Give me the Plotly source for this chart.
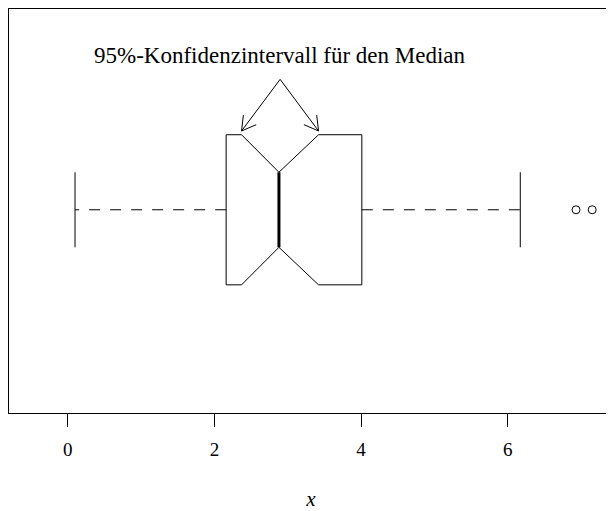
import math
import plotly.graph_objects as go

# box statistics
whisker_lo = 0.1
q1 = 2.16
median = 2.88
q3 = 4.01
whisker_hi = 6.17
notch_lo = 2.37
notch_hi = 3.42
outliers = [6.93, 7.15]

tick_vals = [0, 2, 4, 6]
tick_text = ["0", "2", "4", "6"]
note_text = "95%-Konfidenzintervall für den Median"

# axis ranges and pixel scale of the plot area
x_range = [-0.800, 7.434]
y_range = [-0.083, 2.070]
plot_w, plot_h = 604, 404
sx = plot_w / (x_range[1] - x_range[0])
sy = plot_h / (y_range[1] - y_range[0])

pos = 1.0
half = 0.4
top, bot = pos + half, pos - half
waist = half / 2

fig = go.Figure()

# notched box outline
fig.add_trace(go.Scatter(
    x=[q1, notch_lo, median, notch_hi, q3, q3, notch_hi, median, notch_lo, q1, q1],
    y=[top, top, pos + waist, top, top, bot, bot, pos - waist, bot, bot, top],
    mode="lines", line=dict(color="black", width=1), showlegend=False, hoverinfo="skip"))

# median
fig.add_trace(go.Scatter(x=[median, median], y=[pos - waist, pos + waist], mode="lines",
                         line=dict(color="black", width=3), showlegend=False))

# whiskers (dashed)
for a, b in [(q1, whisker_lo), (q3, whisker_hi)]:
    fig.add_trace(go.Scatter(x=[a, b], y=[pos, pos], mode="lines",
                             line=dict(color="black", width=1, dash="11px,10px"), showlegend=False))

# staples
for w in [whisker_lo, whisker_hi]:
    fig.add_trace(go.Scatter(x=[w, w], y=[pos - waist, pos + waist], mode="lines",
                             line=dict(color="black", width=1), showlegend=False))

# outliers
fig.add_trace(go.Scatter(x=outliers, y=[pos] * len(outliers), mode="markers",
                         marker=dict(symbol="circle-open", size=8, color="black", line=dict(width=1)),
                         showlegend=False))

# arrows from the note to the notch limits
apex = (median + 0.016, 1.695)
tip_y = top + 0.02
head_len = 16
for nx in [notch_lo, notch_hi]:
    fig.add_trace(go.Scatter(x=[apex[0], nx], y=[apex[1], tip_y], mode="lines",
                             line=dict(color="black", width=1), showlegend=False))
    dx = (apex[0] - nx) * sx
    dy = (apex[1] - tip_y) * sy
    n = math.hypot(dx, dy)
    ux, uy = dx / n, dy / n
    hx, hy = [], []
    for ang in [math.radians(30), math.radians(-30)]:
        rx = ux * math.cos(ang) - uy * math.sin(ang)
        ry = ux * math.sin(ang) + uy * math.cos(ang)
        hx += [nx + rx * head_len / sx, nx, None]
        hy += [tip_y + ry * head_len / sy, tip_y, None]
    fig.add_trace(go.Scatter(x=hx, y=hy, mode="lines",
                             line=dict(color="black", width=1), showlegend=False))

fig.add_annotation(x=2.888, y=1.82, text=note_text, showarrow=False,
                   font=dict(family="Liberation Serif", size=23, color="black"))

# page body adds an 8px offset, so the figure is sized to the remaining area
fig.update_layout(
    width=606, height=503,
    margin=dict(l=1, r=1, t=1, b=98),
    plot_bgcolor="white", paper_bgcolor="white",
    showlegend=False,
    font=dict(family="Liberation Serif", color="black"),
)
fig.update_xaxes(range=x_range, showgrid=False, zeroline=False,
                 showline=True, mirror=True, linecolor="black", linewidth=1,
                 ticks="outside", ticklen=13, tickcolor="black", tickwidth=1,
                 tickvals=tick_vals, ticktext=tick_text, tickfont=dict(size=19),
                 ticklabelstandoff=6,
                 title=dict(text="<i>x</i>", font=dict(size=21), standoff=36))
fig.update_yaxes(range=y_range, showgrid=False, zeroline=False,
                 showline=True, mirror=True, linecolor="black", linewidth=1,
                 showticklabels=False, ticks="")

fig.write_html("out.html")
